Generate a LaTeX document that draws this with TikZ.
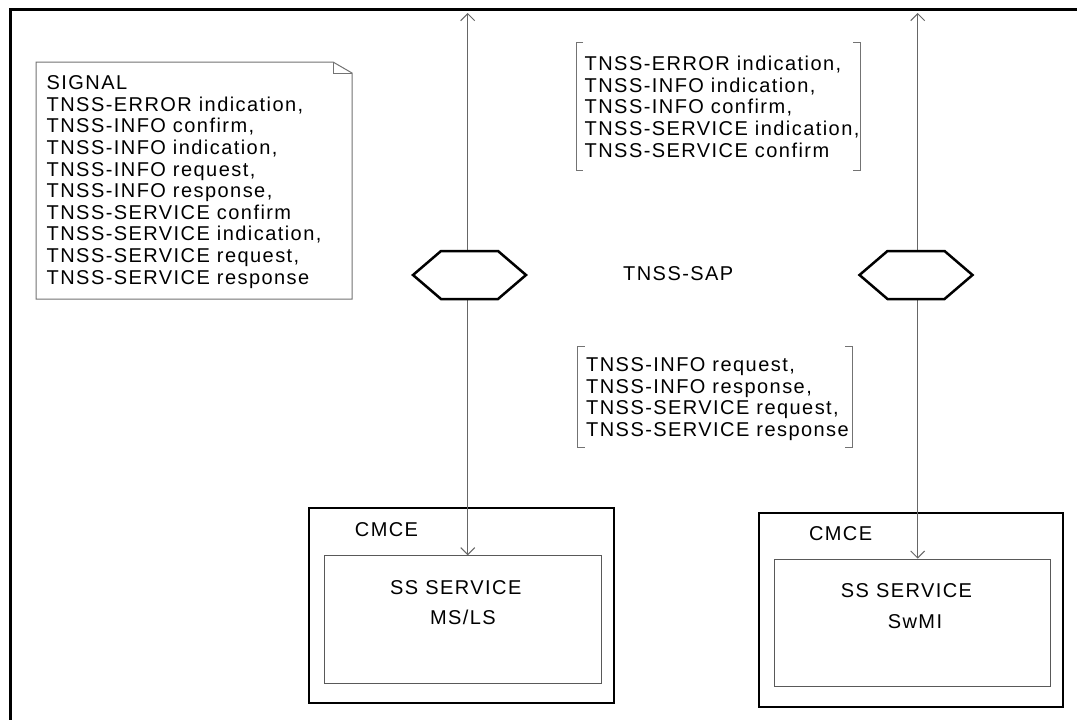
\documentclass[tikz,border=0pt]{standalone}
\usepackage{fontspec}
\setmainfont{Liberation Sans}[LetterSpace=7.2]
\usetikzlibrary{arrows.meta}
\begin{document}
\begin{tikzpicture}[x=1pt,y=-1pt,
  lbl/.style={font=\fontsize{20}{21.5}\selectfont, inner sep=0pt, anchor=base west},
  blk/.style={font=\fontsize{20}{21.6}\selectfont, inner sep=0pt, align=left, anchor=north west},
  thinline/.style={draw=black!55, line width=1pt},
  outerbox/.style={draw=black, line width=2pt, anchor=north west, inner sep=0pt},
  innerbox/.style={draw=black!65, line width=1pt, anchor=north west, inner sep=0pt},
  hexshape/.style={draw=black, line width=2.5pt, fill=white, line join=miter},
  sigarrow/.style={draw=black!60, line width=1pt,
     {Straight Barb[length=7pt,width=14pt]}-{Straight Barb[length=7pt,width=14pt]}}
]
\useasboundingbox (0,0) rectangle (1077,720);
\fill[white] (0,0) rectangle (1077,720);
% frame
\draw[line width=3pt] (10,720) -- (10,9) -- (1077,9);

% note (SDL text symbol)
\draw[thinline, fill=white] (36,62) -- (333,62) -- (352,73) -- (352,299) -- (36,299) -- cycle;
\draw[thinline] (333,62) -- (333,73) -- (352,73);
\node[blk] (note) at (46.5,75.5) {SIGNAL\\TNSS-ERROR indication,\\TNSS-INFO confirm,\\TNSS-INFO indication,\\TNSS-INFO request,\\TNSS-INFO response,\\TNSS-SERVICE confirm\\TNSS-SERVICE indication,\\TNSS-SERVICE request,\\TNSS-SERVICE response};

% CMCE boxes
\node[outerbox, minimum width=305pt, minimum height=194.4pt] (cmceL) at (307.5,507.3) {};
\node[innerbox, minimum width=277pt, minimum height=127.4pt] (inL) at (323.7,555.3) {};
\node[outerbox, minimum width=304.2pt, minimum height=194.3pt] (cmceR) at (757.8,511.7) {};
\node[innerbox, minimum width=275.6pt, minimum height=127.3pt] (inR) at (774,558.7) {};

\node[lbl] (cmceLt) at (354.7,536) {CMCE};
\node[lbl] (ssL) at (390,594.8) {SS SERVICE};
\node[lbl] (msls) at (429.8,624.8) {MS/LS};
\node[lbl] (cmceRt) at (808.8,540.5) {CMCE};
\node[lbl] (ssR) at (840.7,597) {SS SERVICE};
\node[lbl] (swmi) at (887.6,628) {SwMI};

% signal routes
\coordinate (topL) at (467.7,13);
\coordinate (topR) at (917.7,13);
\draw[sigarrow] (topL) -- (topL |- inL.north);
\draw[sigarrow] (topR) -- (topR |- inR.north);

% SAP hexagons
\coordinate (hexL) at (469.5,275);
\coordinate (hexR) at (916,275);
\draw[hexshape] (hexL) ++(-56.5,0) -- ++(28,-24) -- ++(57,0) -- ++(28,24) -- ++(-28,24) -- ++(-57,0) -- cycle;
\draw[hexshape] (hexR) ++(-56.5,0) -- ++(28,-24) -- ++(57,0) -- ++(28,24) -- ++(-28,24) -- ++(-57,0) -- cycle;
\node[lbl] (sap) at (623,280.5) {TNSS-SAP};

% signal lists
\draw[thinline] (583,42.7) -- (576,42.7) -- (576,170.7) -- (583,170.7);
\draw[thinline] (853,42.7) -- (860,42.7) -- (860,170.7) -- (853,170.7);
\node[blk] (up) at (584.5,56) {TNSS-ERROR indication,\\TNSS-INFO indication,\\TNSS-INFO confirm,\\TNSS-SERVICE indication,\\TNSS-SERVICE confirm};
\draw[thinline] (584.5,346) -- (577.7,346) -- (577.7,447.3) -- (584.5,447.3);
\draw[thinline] (845,346) -- (852,346) -- (852,447.3) -- (845,447.3);
\node[blk] (down) at (586,357.5) {TNSS-INFO request,\\TNSS-INFO response,\\TNSS-SERVICE request,\\TNSS-SERVICE response};
\end{tikzpicture}
\end{document}
